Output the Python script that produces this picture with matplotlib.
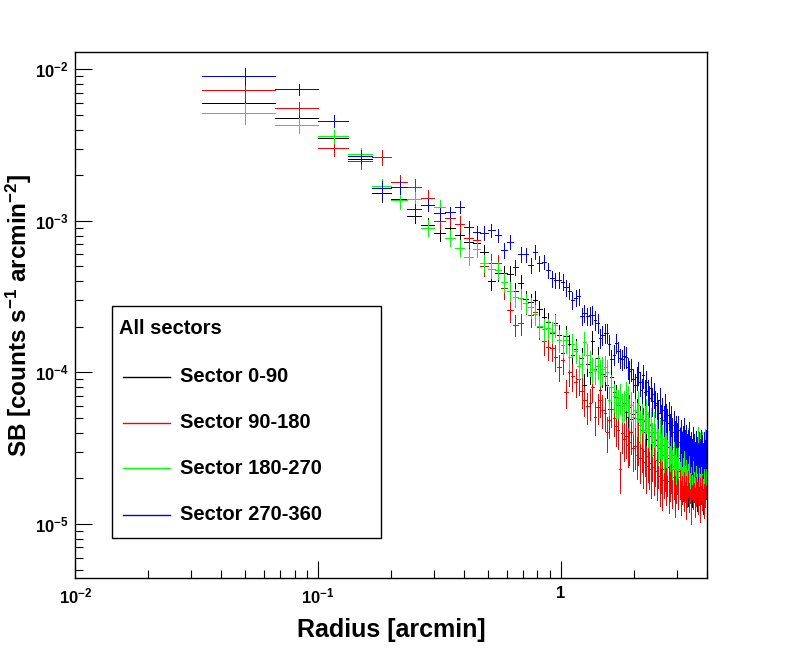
import matplotlib
matplotlib.use("Agg")
import matplotlib.pyplot as plt
import numpy as np
from matplotlib.lines import Line2D
from matplotlib.patches import Rectangle
from matplotlib.ticker import FixedLocator, FixedFormatter, LogLocator, NullFormatter

plt.rcParams["font.family"] = ["Liberation Sans", "DejaVu Sans"]
plt.rcParams["font.weight"] = "bold"
plt.rcParams["mathtext.fontset"] = "custom"
plt.rcParams["mathtext.rm"] = "Liberation Sans:bold"
plt.rcParams["mathtext.bf"] = "Liberation Sans:bold"
plt.rcParams["mathtext.it"] = "Liberation Sans:bold"

# ─── Data ─────────────────────────────────────────────────────────────────────
# radial bins: constant width of 2 arcsec, from 2 arcsec out to 4 arcmin
r_lo, r_hi, n_bins = 1.0 / 30, 4.0, 119

sectors = ["Sector 0-90", "Sector 90-180", "Sector 180-270", "Sector 270-360"]
colors = ["#000000", "#ff0000", "#00ff00", "#0000ff"]

# surface brightness [counts s^-1 arcmin^-2]
sb_0_90 = [
    6.0e-3, 4.8e-3, 3.5e-3, 2.56e-3, 1.52e-3, 1.39e-3, 1.08e-3, 9.4e-4, 8.3e-4, 9.0e-4,
    8.1e-4, 7.2e-4, 7.15e-4, 6.2e-4, 4.03e-4, 4.55e-4, 4.5e-4, 4.45e-4, 3.46e-4, 3.88e-4,
    3.04e-4, 2.92e-4, 3.01e-4, 2.61e-4, 2.33e-4, 2.15e-4, 1.81e-4, 2.11e-4, 1.77e-4, 1.34e-4,
    1.75e-4, 1.53e-4, 1.31e-4, 1.42e-4, 1.10e-4, 1.24e-4, 8.3e-5, 1.13e-4, 1.01e-4, 1.6e-4,
    1.05e-4, 1.25e-4, 7.7e-5, 9.7e-5, 9.4e-5, 8.3e-5, 5.7e-5, 9.3e-5, 7.4e-5, 6.9e-5,
    6.1e-5, 6.8e-5, 4.0e-5, 6.3e-5, 5.5e-5, 5.1e-5, 5.9e-5, 4.9e-5, 5.3e-5, 5.0e-5,
    5.5e-5, 4.5e-5, 4.9e-5, 4.2e-5, 4.75e-5, 4.07e-5, 4.33e-5, 3.61e-5, 4.53e-5, 3.83e-5,
    3.5e-5, 4.02e-5, 3.34e-5, 3.6e-5, 3.19e-5, 3.78e-5, 3.01e-5, 3.34e-5, 2.87e-5, 3.5e-5,
    3.1e-5, 2.74e-5, 3.24e-5, 2.58e-5, 2.95e-5, 2.43e-5, 2.87e-5, 2.29e-5, 2.66e-5, 2.47e-5,
    2.74e-5, 2.22e-5, 2.58e-5, 2.36e-5, 2.09e-5, 2.66e-5, 2.29e-5, 2.15e-5, 2.47e-5, 1.96e-5,
    2.36e-5, 2.09e-5, 2.58e-5, 1.91e-5, 2.26e-5, 2.43e-5, 2.03e-5, 2.29e-5, 1.82e-5, 2.36e-5,
    2.12e-5, 2.54e-5, 1.96e-5, 2.22e-5, 1.79e-5, 2.36e-5, 2.06e-5, 2.29e-5, 1.91e-5,
]
sb_90_180 = [
    7.27e-3, 5.53e-3, 3.01e-3, 2.48e-3, 2.63e-3, 1.80e-3, 1.68e-3, 1.42e-3, 9.98e-4, 1.04e-3,
    9.58e-4, 7.68e-4, 7.45e-4, 5.06e-4, 5.30e-4, 5.25e-4, 3.59e-4, 2.58e-4, 2.06e-4, 2.11e-4,
    2.86e-4, 2.39e-4, 2.51e-4, 2.00e-4, 1.60e-4, 1.48e-4, 1.44e-4, 1.27e-4, 1.09e-4, 1.20e-4,
    7.4e-5, 1.01e-4, 9.4e-5, 8.7e-5, 9.0e-5, 7.5e-5, 6.6e-5, 5.96e-5, 6.33e-5, 8.07e-5,
    5.11e-5, 5.9e-5, 6.6e-5, 5.69e-5, 5.43e-5, 4.02e-5, 4.89e-5, 5.7e-5, 5.04e-5, 4.40e-5,
    4.20e-5, 2.29e-5, 4.0e-5, 3.61e-5, 3.78e-5, 3.34e-5, 3.45e-5, 4.02e-5, 3.19e-5, 3.29e-5,
    2.87e-5, 3.50e-5, 2.74e-5, 3.19e-5, 2.58e-5, 3.01e-5, 2.43e-5, 2.79e-5, 2.54e-5, 2.29e-5,
    2.87e-5, 2.36e-5, 2.66e-5, 2.22e-5, 2.58e-5, 2.06e-5, 2.43e-5, 1.96e-5, 2.29e-5, 2.50e-5,
    2.09e-5, 2.36e-5, 1.91e-5, 2.22e-5, 2.47e-5, 2.03e-5, 2.29e-5, 1.82e-5, 2.15e-5, 2.43e-5,
    2.03e-5, 2.29e-5, 1.87e-5, 2.15e-5, 2.36e-5, 1.96e-5, 2.22e-5, 1.79e-5, 2.09e-5, 2.36e-5,
    1.96e-5, 2.19e-5, 1.69e-5, 2.29e-5, 2.03e-5, 2.22e-5, 1.85e-5, 2.12e-5, 2.36e-5, 1.91e-5,
    2.15e-5, 1.74e-5, 2.29e-5, 2.03e-5, 2.22e-5, 1.82e-5, 2.09e-5, 2.29e-5, 1.91e-5,
]
sb_180_270 = [
    5.15e-3, 4.27e-3, 3.61e-3, 2.75e-3, 1.69e-3, 1.37e-3, 1.39e-3, 9.02e-4, 1.24e-3, 7.75e-4,
    6.63e-4, 5.80e-4, 6.53e-4, 5.25e-4, 4.79e-4, 4.74e-4, 3.97e-4, 3.46e-4, 3.13e-4, 3.10e-4,
    2.87e-4, 2.69e-4, 2.42e-4, 2.03e-4, 1.93e-4, 1.96e-4, 1.85e-4, 2.05e-4, 1.64e-4, 1.52e-4,
    1.63e-4, 1.27e-4, 1.53e-4, 1.38e-4, 1.10e-4, 1.13e-4, 1.58e-4, 1.31e-4, 1.17e-4, 1.05e-4,
    1.04e-4, 1.10e-4, 1.01e-4, 1.05e-4, 1.08e-4, 1.01e-4, 6.62e-5, 8.07e-5, 6.94e-5, 6.33e-5,
    6.3e-5, 6.83e-5, 5.96e-5, 6.14e-5, 7.15e-5, 6.62e-5, 5.43e-5, 6.1e-5, 5.11e-5, 5.69e-5,
    5.04e-5, 6.14e-5, 4.47e-5, 5.19e-5, 4.2e-5, 4.89e-5, 5.35e-5, 4.33e-5, 4.02e-5, 4.6e-5,
    3.72e-5, 4.33e-5, 3.61e-5, 4.07e-5, 3.34e-5, 3.78e-5, 3.19e-5, 3.61e-5, 3.01e-5, 3.83e-5,
    3.29e-5, 2.87e-5, 3.45e-5, 3.1e-5, 3.61e-5, 2.74e-5, 3.24e-5, 3.01e-5, 2.66e-5, 3.19e-5,
    2.87e-5, 3.34e-5, 2.74e-5, 3.1e-5, 2.58e-5, 3.24e-5, 2.87e-5, 3.01e-5, 2.66e-5, 3.29e-5,
    2.83e-5, 2.54e-5, 3.1e-5, 2.74e-5, 3.19e-5, 2.87e-5, 2.58e-5, 3.1e-5, 2.79e-5, 3.24e-5,
    2.66e-5, 3.01e-5, 2.74e-5, 3.1e-5, 2.58e-5, 2.87e-5, 3.19e-5, 2.74e-5, 2.95e-5,
]
sb_270_360 = [
    9.0e-3, 7.4e-3, 4.56e-3, 2.67e-3, 1.65e-3, 1.68e-3, 1.19e-3, 1.27e-3, 1.12e-3, 1.14e-3,
    1.24e-3, 9.12e-4, 8.41e-4, 8.36e-4, 8.71e-4, 8.07e-4, 6.43e-4, 7.29e-4, 4.94e-4, 6.02e-4,
    6.0e-4, 5.12e-4, 6.26e-4, 5.25e-4, 5.38e-4, 4.74e-4, 4.18e-4, 4.07e-4, 4.1e-4, 3.97e-4,
    3.65e-4, 3.46e-4, 2.99e-4, 3.10e-4, 3.18e-4, 2.35e-4, 2.47e-4, 2.35e-4, 2.38e-4, 2.41e-4,
    2.23e-4, 2.12e-4, 1.69e-4, 1.77e-4, 1.82e-4, 1.83e-4, 1.53e-4, 1.22e-4, 1.31e-4, 1.57e-4,
    1.38e-4, 1.25e-4, 1.22e-4, 1.28e-4, 1.27e-4, 1.08e-4, 1.02e-4, 1.05e-4, 8.98e-5, 8.32e-5,
    9.26e-5, 1.0e-4, 8.58e-5, 7.71e-5, 9.55e-5, 7.48e-5, 8.71e-5, 7.5e-5, 6.83e-5, 7.95e-5,
    6.43e-5, 7.15e-5, 6.33e-5, 6.14e-5, 5.43e-5, 6.62e-5, 5.04e-5, 5.69e-5, 4.89e-5, 5.96e-5,
    5.11e-5, 4.67e-5, 5.27e-5, 4.33e-5, 4.9e-5, 4.07e-5, 4.53e-5, 3.83e-5, 4.20e-5, 3.72e-5,
    4.18e-5, 3.45e-5, 3.89e-5, 3.24e-5, 3.61e-5, 4.02e-5, 3.29e-5, 3.6e-5, 3.10e-5, 3.34e-5,
    3.78e-5, 3.01e-5, 3.24e-5, 2.87e-5, 3.50e-5, 3.08e-5, 2.74e-5, 3.29e-5, 2.95e-5, 2.66e-5,
    3.19e-5, 2.9e-5, 3.3e-5, 3.01e-5, 2.7e-5, 3.2e-5, 2.85e-5, 3.24e-5, 2.95e-5,
]

# 1-sigma errors, in percent of the value
err_pct_0_90 = [
    15, 10, 10, 11, 12, 11, 10, 11, 11, 10,
    10, 11, 11, 12, 13, 12, 12, 13, 13, 13,
    14, 13, 14, 14, 15, 14, 15, 15, 16, 16,
    15, 16, 16, 17, 16, 17, 18, 16, 17, 17,
    18, 17, 18, 18, 19, 18, 20, 18, 19, 20,
    20, 19, 22, 20, 21, 21, 20, 22, 21, 22,
    22, 23, 22, 24, 23, 24, 23, 25, 24, 25,
    25, 24, 26, 25, 27, 25, 27, 26, 28, 26,
    27, 28, 27, 29, 27, 30, 28, 30, 29, 30,
    29, 31, 29, 30, 32, 29, 31, 32, 30, 33,
    31, 30, 33, 32, 31, 32, 34, 31, 33, 35,
    32, 33, 31, 34, 35, 32, 34, 33, 35,
]
err_pct_90_180 = [
    14, 10, 11, 11, 11, 12, 12, 12, 11, 11,
    12, 12, 12, 14, 14, 14, 15, 16, 16, 16,
    15, 16, 16, 17, 18, 18, 18, 19, 20, 19,
    21, 20, 20, 21, 21, 22, 22, 23, 23, 21,
    24, 23, 23, 24, 24, 26, 25, 24, 25, 26,
    26, 30, 27, 28, 28, 29, 29, 28, 30, 30,
    31, 30, 32, 31, 33, 31, 34, 32, 33, 35,
    33, 34, 33, 35, 33, 36, 34, 37, 35, 34,
    36, 35, 38, 36, 35, 37, 36, 39, 36, 35,
    38, 36, 39, 37, 36, 38, 37, 40, 38, 36,
    39, 37, 41, 36, 38, 37, 40, 38, 36, 39,
    38, 41, 37, 39, 38, 40, 38, 36, 39,
]
err_pct_180_270 = [
    16, 11, 10, 10, 12, 12, 11, 12, 10, 12,
    12, 12, 12, 13, 13, 13, 14, 14, 14, 15,
    14, 15, 15, 16, 16, 15, 16, 16, 17, 17,
    17, 17, 18, 17, 18, 18, 17, 18, 19, 19,
    19, 18, 19, 20, 19, 20, 21, 20, 21, 21,
    21, 22, 21, 22, 21, 22, 23, 22, 23, 23,
    24, 23, 24, 23, 25, 24, 25, 26, 25, 26,
    25, 26, 27, 26, 27, 28, 27, 28, 27, 29,
    28, 27, 29, 28, 30, 28, 29, 30, 31, 29,
    30, 31, 29, 32, 30, 31, 33, 30, 32, 31,
    33, 32, 30, 33, 31, 34, 32, 33, 31, 34,
    33, 32, 34, 31, 33, 35, 32, 34, 33,
]
err_pct_270_360 = [
    13, 8, 9, 10, 11, 10, 9, 9, 9, 9,
    9, 9, 10, 10, 10, 10, 11, 10, 11, 11,
    11, 11, 11, 11, 11, 12, 12, 12, 12, 12,
    12, 12, 13, 12, 12, 13, 13, 13, 13, 13,
    14, 14, 14, 14, 14, 14, 15, 15, 15, 14,
    15, 15, 15, 16, 16, 16, 16, 17, 17, 18,
    17, 17, 18, 18, 17, 19, 18, 19, 19, 18,
    20, 19, 20, 20, 21, 19, 21, 20, 22, 20,
    21, 22, 21, 23, 22, 23, 22, 24, 23, 24,
    23, 25, 24, 25, 23, 24, 26, 25, 26, 24,
    25, 27, 25, 26, 24, 27, 26, 25, 27, 28,
    26, 25, 27, 28, 26, 27, 25, 28, 26,
]

sb_all = [sb_0_90, sb_90_180, sb_180_270, sb_270_360]
err_all = [err_pct_0_90, err_pct_90_180, err_pct_180_270, err_pct_270_360]

x_ticks = [0.01, 0.1, 1.0]
x_tick_labels = [r"$10^{-2}$", r"$10^{-1}$", "1"]
y_ticks = [1e-5, 1e-4, 1e-3, 1e-2]
y_tick_labels = [r"$10^{-5}$", r"$10^{-4}$", r"$10^{-3}$", r"$10^{-2}$"]

# ─── Figure ───────────────────────────────────────────────────────────────────
W, H = 790, 658
fig = plt.figure(figsize=(W / 100, H / 100), dpi=100)
ax = fig.add_axes([75.3 / W, 1 - 578 / H, (707 - 75.3) / W, (578 - 52.3) / H])

edges = np.linspace(r_lo, r_hi, n_bins + 1)
centers = 0.5 * (edges[:-1] + edges[1:])
half_w = 0.5 * np.diff(edges)

for sb, err, col in zip(sb_all, err_all, colors):
    sb = np.asarray(sb)
    assert len(sb) == n_bins and len(err) == n_bins
    yerr = sb * np.asarray(err) / 100.0
    cont = ax.errorbar(centers, sb, xerr=half_w, yerr=yerr, fmt="none",
                       ecolor=col, elinewidth=0.7, capsize=0)
    # crisp 1px lines like the ROOT canvas
    for coll in cont.lines[2]:
        coll.set_antialiased(False)

ax.set_xscale("log")
ax.set_yscale("log")
ax.set_xlim(0.01, 4.0)
ax.set_ylim(4.4e-6, 1.295e-2)

ax.xaxis.set_major_locator(FixedLocator(x_ticks))
ax.xaxis.set_major_formatter(FixedFormatter(x_tick_labels))
ax.yaxis.set_major_locator(FixedLocator(y_ticks))
ax.yaxis.set_major_formatter(FixedFormatter(y_tick_labels))
for axis in (ax.xaxis, ax.yaxis):
    axis.set_minor_locator(LogLocator(base=10, subs=range(2, 10), numticks=20))
    axis.set_minor_formatter(NullFormatter())

ax.tick_params(which="both", direction="in", top=False, right=False,
               width=0.8, labelsize=12)
ax.tick_params(axis="x", which="major", length=12, pad=6)
ax.tick_params(axis="y", which="major", length=12, pad=5)
ax.tick_params(which="minor", length=6)
for sp in ax.spines.values():
    sp.set_linewidth(1.0)

ax.set_xlabel("Radius [arcmin]", fontsize=18, fontweight="bold")
ax.xaxis.set_label_coords(0.5, -0.076)
ax.set_ylabel(r"SB [counts s$^{-1}$ arcmin$^{-2}$]", fontsize=17.5, fontweight="bold")
ax.yaxis.set_label_coords(-0.066, 0.5)

# ─── Legend box (ROOT style) ─────────────────────────────────────────────────
def px(x, y):
    return x / W, 1 - y / H

x0, y0 = px(112, 538)
x1, y1 = px(381, 306)
fig.add_artist(Rectangle((x0, y0), x1 - x0, y1 - y0, transform=fig.transFigure,
                         facecolor="white", edgecolor="black", lw=1.0, zorder=5))
hx, hy = px(119, 329)
fig.text(hx, hy, "All sectors", fontsize=14.5, fontweight="bold",
         ha="left", va="center", zorder=6)
for k, (name, col) in enumerate(zip(sectors, colors)):
    ly = [377, 423, 468, 515][k]
    lx0, yy = px(123, ly)
    lx1, _ = px(170, ly)
    fig.add_artist(Line2D([lx0, lx1], [yy, yy], transform=fig.transFigure,
                          color=col, lw=1.0, zorder=6))
    tx, _ = px(180, ly)
    fig.text(tx, yy, name, fontsize=14.5, fontweight="bold",
             ha="left", va="center", zorder=6)

fig.savefig("out.png", dpi=100, facecolor="white")
